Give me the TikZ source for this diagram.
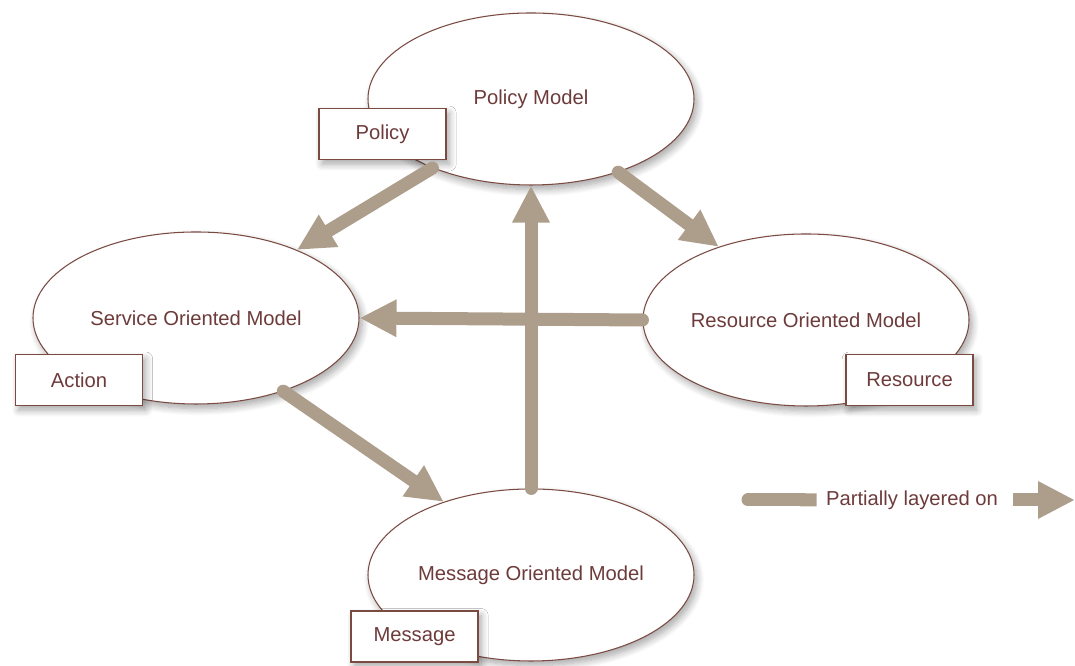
\documentclass[tikz,border=0pt]{standalone}
\usepackage{fontspec}
\setmainfont{Liberation Sans}
\usepackage{tikz}
\usetikzlibrary{arrows.meta,shapes.geometric,shadows.blur}
\usepackage{xcolor}

\definecolor{modeltext}{HTML}{6E3B3B}
\definecolor{modelline}{HTML}{7B4B42}
\definecolor{layertan}{HTML}{AD9E8C}

\tikzset{
  modelshadow/.style={blur shadow={shadow xshift=1.8pt, shadow yshift=-2.6pt,
      shadow blur radius=4pt, shadow blur steps=8, shadow opacity=35}},
  model/.style={ellipse, draw=modelline, line width=0.6pt, fill=white,
      inner sep=0pt, minimum width=6.52cm, minimum height=3.44cm, text=modeltext,
      font=\fontsize{11.5}{14}\selectfont, modelshadow},
  concept/.style={rectangle, draw=modelline, line width=0.6pt, fill=white,
      minimum width=2.54cm, minimum height=1.02cm, text=modeltext,
      font=\fontsize{11.5}{14}\selectfont, modelshadow},
  layered/.style={draw=layertan, line width=0.26cm, line cap=round,
      -{Triangle[length=0.74cm, width=0.7cm]}},
}

\begin{document}
\begin{tikzpicture}
\useasboundingbox (0, 0) rectangle (21.5, 13.32);
\node(policy) at (10.62, 11.34) [model] {Policy Model} ; 
\node(service) at (3.92, 6.96) [model] {Service Oriented Model} ; 
\node(resource) at (16.12, 6.92) [model] {Resource Oriented Model} ; 
\node(message) at (10.62, 1.82) [model] {Message Oriented Model} ; 
\node(policybox) at (7.65, 10.64) [concept] {Policy} ; 
\node(action) at (1.58, 5.72) [concept] {Action} ; 
\node(resourcebox) at (18.19, 5.72) [concept] {Resource} ; 
\node(messagebox) at (8.29, 0.59) [concept] {Message} ; 
\draw[layered] (policy.215) to (service.34) ; 
\draw[layered] (policy.320) to (resource.140) ; 
\draw[layered] (resource.west) to (service.east) ; 
\draw[layered] (message.north) to (policy.south) ; 
\draw[layered] (service.320) to (message.140) ; 
% legend
\node(legend) at (18.24, 3.32) [text=modeltext, inner xsep=0.18cm, font=\fontsize{11.5}{14}\selectfont] {Partially layered on} ; 
\coordinate(legstart) at (14.96, 3.32) ; 
\coordinate(legend end) at (21.5, 3.32) ; 
\draw[draw=layertan, line width=0.26cm, line cap=round, -{Butt Cap}] (legstart) to (legend.west) ; 
\draw[layered, line cap=butt] ([xshift=0.12cm]legend.east) to (legend end) ; 
\end{tikzpicture}
\end{document}
